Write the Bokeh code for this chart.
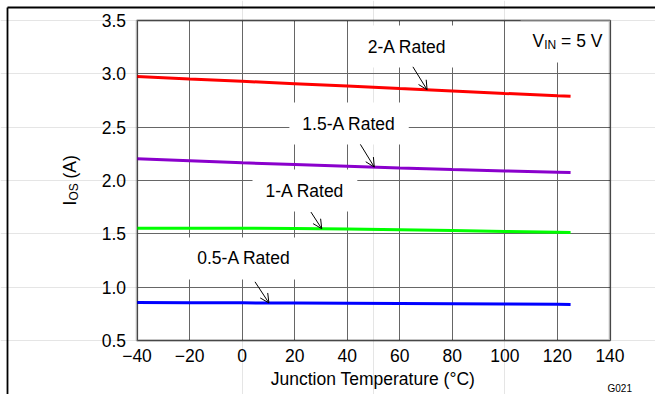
from bokeh.plotting import figure
from bokeh.models import (Label, Arrow, OpenHead, BoxAnnotation, FixedTicker,
                          LinearAxis, Grid, Range1d)
from bokeh.embed import file_html
from bokeh.resources import INLINE
import numpy as np

# Junction temperature (°C) and short-circuit output current I_OS (A)
temps = [-40, -20, 0, 20, 40, 60, 80, 100, 120, 125]
i_os_2a = [2.975, 2.952, 2.930, 2.908, 2.885, 2.862, 2.840, 2.816, 2.795, 2.790]
i_os_1p5a = [2.205, 2.185, 2.166, 2.150, 2.134, 2.118, 2.103, 2.090, 2.078, 2.075]
i_os_1a = [1.553, 1.553, 1.552, 1.550, 1.546, 1.539, 1.531, 1.523, 1.515, 1.513]
i_os_0p5a = [0.857, 0.855, 0.853, 0.851, 0.849, 0.847, 0.845, 0.842, 0.839, 0.838]

series_names = ["2-A Rated", "1.5-A Rated", "1-A Rated", "0.5-A Rated"]
series_values = [i_os_2a, i_os_1p5a, i_os_1a, i_os_0p5a]
series_colors = ["#FF0000", "#8A00CC", "#00FF00", "#0000FF"]

x_ticks = [-40, -20, 0, 20, 40, 60, 80, 100, 120, 140]
x_tick_labels = ["\u221240", "\u221220", "0", "20", "40", "60", "80", "100", "120", "140"]
y_ticks = [0.5, 1.0, 1.5, 2.0, 2.5, 3.0, 3.5]
y_tick_labels = ["0.5", "1.0", "1.5", "2.0", "2.5", "3.0", "3.5"]

FONT = "Liberation Sans"
FS = "17.5px"

# Canvas size and where the plotting box sits inside it (pixels)
W, H = 655, 394
BOX_L, BOX_R, BOX_T, BOX_B = 136.5, 609.5, 20.0, 340.0
x_lo, x_hi = x_ticks[0], x_ticks[-1]
y_lo, y_hi = y_ticks[0], y_ticks[-1]
sx = (BOX_R - BOX_L) / (x_hi - x_lo)
sy = (BOX_B - BOX_T) / (y_hi - y_lo)

# The frame fills the whole canvas so that titles and page marks can be drawn anywhere
p = figure(width=W, height=H,
           x_range=Range1d(x_lo - BOX_L / sx, x_hi + (W - BOX_R) / sx),
           y_range=Range1d(y_lo - (H - BOX_B) / sy, y_hi + BOX_T / sy),
           x_axis_location=None, y_axis_location=None,
           output_backend="svg", toolbar_location=None, min_border=0)
p.background_fill_color = "white"
p.border_fill_color = "white"
p.outline_line_color = None

xaxis = LinearAxis(fixed_location=y_lo, bounds=(x_lo, x_hi))
yaxis = LinearAxis(fixed_location=x_lo, bounds=(y_lo, y_hi))
for ax, ticks, labels in ((xaxis, x_ticks, x_tick_labels), (yaxis, y_ticks, y_tick_labels)):
    ax.ticker = FixedTicker(ticks=ticks)
    ax.major_label_overrides = dict(zip(ticks, labels))
    ax.axis_line_color = None
    ax.major_tick_line_color = None
    ax.minor_tick_line_color = None
    ax.major_tick_out = 0
    ax.major_tick_in = 0
    ax.major_label_text_font = FONT
    ax.major_label_text_font_size = FS
    ax.major_label_text_color = "black"
xaxis.major_label_standoff = 8
yaxis.major_label_standoff = 11
p.add_layout(xaxis, "below")
p.add_layout(yaxis, "left")

p.add_layout(Grid(dimension=0, ticker=FixedTicker(ticks=x_ticks), bounds=(x_lo, x_hi),
                  cross_bounds=(y_lo, y_hi), grid_line_color="#666666", grid_line_width=1))
p.add_layout(Grid(dimension=1, ticker=FixedTicker(ticks=y_ticks), bounds=(y_lo, y_hi),
                  cross_bounds=(x_lo, x_hi), grid_line_color="#666666", grid_line_width=1))

for vals, color in zip(series_values, series_colors):
    p.line(temps, vals, line_color=color, line_width=3)

# Callout labels (white boxes hide the grid behind them) and their arrows
label_pos = [(62.8, 3.256), (40.7, 2.534), (23.9, 1.906), (0.7, 1.269)]
arrow_tip_t = [70.4, 50.3, 30.3, 10.2]
arrow_offsets = [(-5.4, 0.215), (-5.3, 0.213), (-4.1, 0.156), (-5.3, 0.198)]

for name, (lx, ly), tip_t, (dt, dy), vals in zip(series_names, label_pos, arrow_tip_t,
                                                    arrow_offsets, series_values):
    p.add_layout(Label(x=lx, y=ly, text=name, text_align="center", text_baseline="middle",
                       text_font=FONT, text_font_size=FS, text_color="black",
                       background_fill_color="white",
                       padding=dict(left=13, right=13, top=11, bottom=11)))
    tip_y = float(np.interp(tip_t, temps, vals))
    p.add_layout(Arrow(x_start=tip_t + dt, y_start=tip_y + dy, x_end=tip_t, y_end=tip_y,
                       line_color="black", line_width=1,
                       end=OpenHead(size=9, line_color="black", line_width=1)))

# White patch behind the supply condition note
p.add_layout(BoxAnnotation(left=106, right=x_hi, bottom=3.106, top=y_hi,
                           fill_color="white", fill_alpha=1, line_color=None))


def canvas_text(x, y, text, size=FS, angle=0.0, align="left"):
    p.add_layout(Label(x=x, y=y, x_units="canvas", y_units="canvas", text=text,
                       angle=angle, text_align=align, text_baseline="alphabetic",
                       text_font=FONT, text_font_size=size, text_color="black"))


canvas_text(532, 40, "V")
canvas_text(543.7, 44, "IN", size="12px")
canvas_text(560.6, 40, "= 5 V")

# Y axis title: I_OS (A), rotated
canvas_text(69, 205, "I", angle=np.pi / 2)
canvas_text(73, 200.1, "OS", size="12px", angle=np.pi / 2)
canvas_text(69, 178, "(A)", angle=np.pi / 2)

# X axis title and figure code
canvas_text(372.5, 378, "Junction Temperature (\u00b0C)", align="center")
canvas_text(607, 387.5, "G021", size="10px")

# Heavy border round the plotting box
p.add_layout(BoxAnnotation(left=x_lo, right=x_hi, bottom=y_lo, top=y_hi,
                           fill_alpha=0, line_color="black", line_width=2.5))

# Page frame lines
for xs, ys, xe, ye in ((7, 7, W, 7), (7, 7, 7, H)):
    p.add_layout(Arrow(x_start=xs, y_start=ys, x_end=xe, y_end=ye,
                       start_units="canvas", end_units="canvas",
                       line_color="black", line_width=1.8, end=None))

open("out.html", "w").write(file_html(p, INLINE))
